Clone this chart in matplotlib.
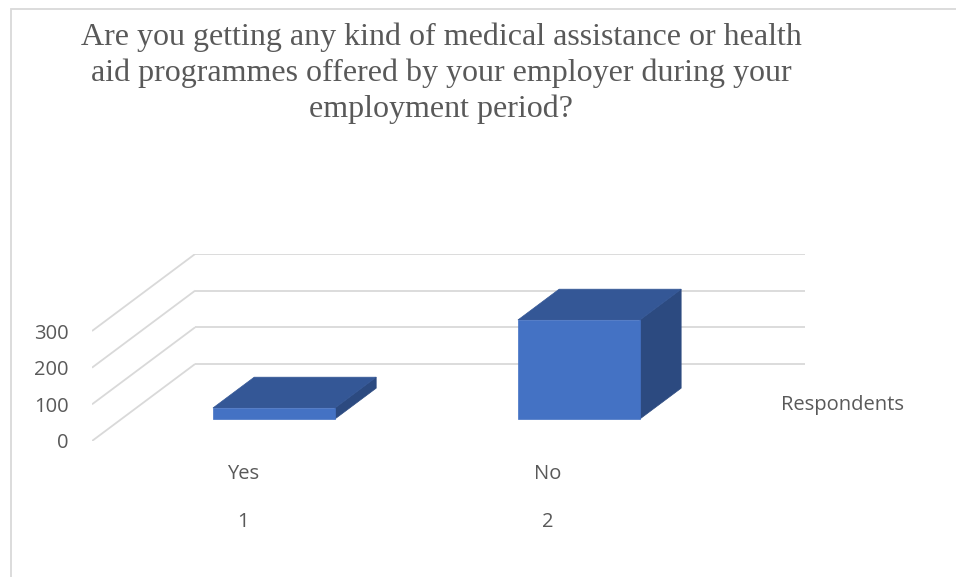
import matplotlib
matplotlib.use('Agg')
import matplotlib.pyplot as plt
import matplotlib.patches as mpatches

# dati
categories = ['Yes', 'No']
category_numbers = ['1', '2']
respondents = [30, 270]
y_ticks = [0, 100, 200, 300]
series_name = 'Respondents'
title = ('Are you getting any kind of medical assistance or health\n'
         'aid programmes offered by your employer during your\n'
         'employment period?')

# stile
W, H = 956, 577
grid_color = '#d9d9d9'
text_color = '#595959'
front_color = '#4472c4'
top_color = '#345796'
side_color = '#2c4a80'
label_size = 14.5

# profondita' della vista obliqua (in unita' degli assi)
DX = 0.338          # unita' di categoria
DY = 210            # unita' di valore
bar_front = 0.286   # frazione di profondita' della faccia frontale
bar_depth = 0.40    # frazione di profondita' della barra
bar_width = 0.4

fig = plt.figure(figsize=(W / 100, H / 100), dpi=100)
ax = fig.add_axes([92 / W, (H - 441) / H, (805 - 92) / W, (441 - 254) / H])
ax.set_xlim(0, len(categories) + DX)
ax.set_ylim(0, max(y_ticks) + DY)
for s in ax.spines.values():
    s.set_visible(False)
ax.set_xticks([])
ax.set_yticks(y_ticks)
ax.set_yticklabels([str(t) for t in y_ticks], fontsize=label_size,
                   color=text_color, family='Open Sans')
ax.tick_params(axis='y', length=0, pad=17)

# pareti: linee laterali e di fondo
for g in y_ticks:
    ax.plot([0, DX], [g, g + DY], color=grid_color, lw=1.3, zorder=1,
            solid_capstyle='butt')
    ax.plot([DX, len(categories) + DX], [g + DY, g + DY], color=grid_color,
            lw=1.3, zorder=1, solid_capstyle='butt')

# barre 3D
for i, v in enumerate(respondents):
    x0 = i + 0.5 - bar_width / 2 + bar_front * DX
    x1 = x0 + bar_width
    y0 = bar_front * DY
    y1 = y0 + v
    ddx = bar_depth * DX
    ddy = bar_depth * DY
    front = mpatches.Polygon([(x0, y0), (x1, y0), (x1, y1), (x0, y1)],
                             closed=True, facecolor=front_color,
                             edgecolor=front_color, lw=0.5, zorder=3)
    top = mpatches.Polygon([(x0, y1), (x1, y1), (x1 + ddx, y1 + ddy),
                            (x0 + ddx, y1 + ddy)],
                           closed=True, facecolor=top_color,
                           edgecolor=top_color, lw=0.5, zorder=3)
    side = mpatches.Polygon([(x1, y0), (x1 + ddx, y0 + ddy),
                             (x1 + ddx, y1 + ddy), (x1, y1)],
                            closed=True, facecolor=side_color,
                            edgecolor=side_color, lw=0.5, zorder=3)
    ax.add_patch(side)
    ax.add_patch(top)
    ax.add_patch(front)

    # etichette di categoria
    ax.annotate(categories[i], xy=(i + 0.5, 0), xycoords='data',
                xytext=(-1, -24), textcoords='offset points',
                ha='center', va='center', fontsize=label_size,
                color=text_color, family='Open Sans', annotation_clip=False)
    ax.annotate(category_numbers[i], xy=(i + 0.5, 0), xycoords='data',
                xytext=(-1, -58), textcoords='offset points',
                ha='center', va='center', fontsize=label_size,
                color=text_color, family='Open Sans', annotation_clip=False)

# legenda (solo testo)
fig.text(781 / W, 1 - 405 / H, series_name, ha='left', va='center',
         fontsize=label_size, color=text_color, family='Open Sans')

# titolo
fig.text(441 / W, 1 - 73 / H, title, ha='center', va='center',
         fontsize=23, color=text_color, family='Liberation Serif',
         linespacing=1.3)

# bordo del grafico
fig.add_artist(mpatches.Rectangle((10.5 / W, -0.1), 1.2, 1.1 - 8.5 / H,
                                  transform=fig.transFigure, fill=False,
                                  edgecolor=grid_color, lw=1.3))

fig.savefig('out.png', dpi=100)
